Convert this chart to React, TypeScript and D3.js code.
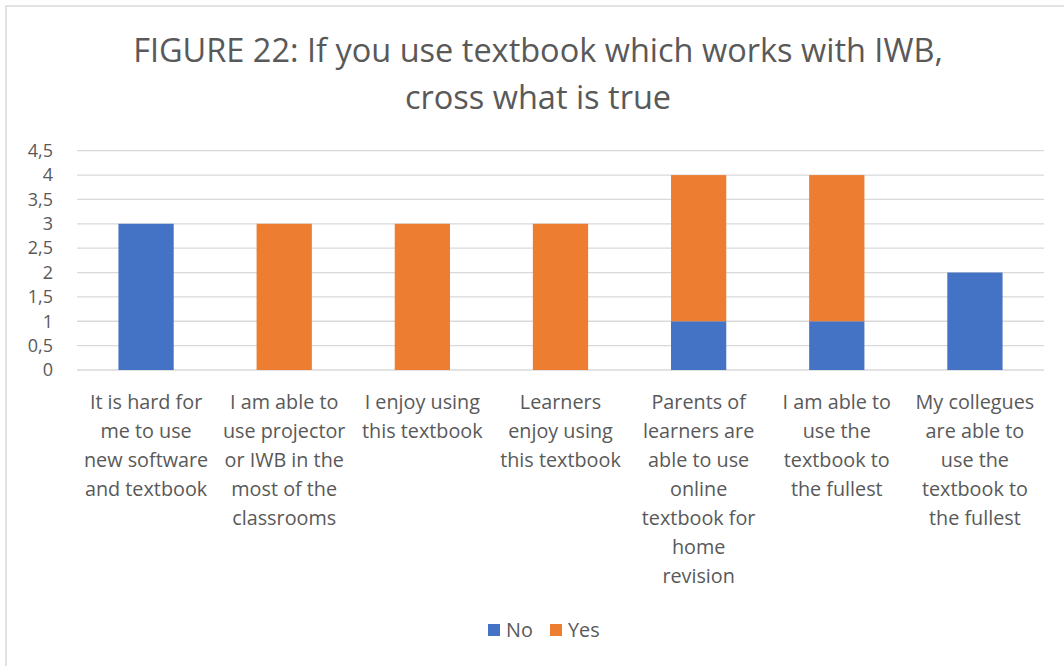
import React from "react";
import * as d3 from "d3";

const categories: string[][] = [
  ["It is hard for", "me to use", "new software", "and textbook"],
  ["I am able to", "use projector", "or IWB in the", "most of the", "classrooms"],
  ["I enjoy using", "this textbook"],
  ["Learners", "enjoy using", "this textbook"],
  ["Parents of", "learners are", "able to use", "online", "textbook for", "home", "revision"],
  ["I am able to", "use the", "textbook to", "the fullest"],
  ["My collegues", "are able to", "use the", "textbook to", "the fullest"],
];
const noValues = [3, 0, 0, 0, 1, 1, 2];
const yesValues = [0, 3, 3, 3, 3, 3, 0];
const yTicks = [0, 0.5, 1, 1.5, 2, 2.5, 3, 3.5, 4, 4.5];
const seriesNames = ["No", "Yes"];
const colors = ["#4472C4", "#ED7D31"];
const titleLines = ["FIGURE 22: If you use textbook which works with IWB,", "cross what is true"];

const W = 1064, H = 666;
const FONT = "'Open Sans', 'Noto Sans', sans-serif";
const TXT = "#595959";

export default function App() {
  const left = 77, right = 1044, top = 150.7, bottom = 370;
  const x = d3.scaleBand<number>().domain(d3.range(categories.length)).range([left, right]).paddingInner(0.6).paddingOuter(0.3);
  const y = d3.scaleLinear().domain([0, 4.5]).range([bottom, top]);
  const rows = categories.map((_, i) => ({ No: noValues[i], Yes: yesValues[i], i }));
  const stack = d3.stack<any>().keys(seriesNames)(rows);
  const fmt = (v: number) => String(v).replace(".", ",");
  const step = (right - left) / categories.length;

  return (
    <svg width={W} height={H} style={{ position: "absolute", left: 0, top: 0, background: "#fff" }}>
      <rect x={6} y={6} width={W + 10} height={H + 10} fill="#fff" stroke="#D9D9D9" strokeWidth={1.5} />
      {titleLines.map((t, k) => (
        <text key={k} x={538} y={62 + k * 47} textAnchor="middle" fontFamily={FONT} fontSize={32.5} fill={TXT}>{t}</text>
      ))}
      {yTicks.map((t) => (
        <g key={t}>
          <line x1={left} x2={right} y1={y(t)} y2={y(t)} stroke="#D9D9D9" strokeWidth={1.3} />
          <text x={53} y={y(t)} dy="0.35em" textAnchor="end" fontFamily={FONT} fontSize={18} fill={TXT}>{fmt(t)}</text>
        </g>
      ))}
      {stack.map((s, si) => (
        <g key={si} fill={colors[si]}>
          {s.map((d, i) => d[1] - d[0] > 0 ? (
            <rect key={i} x={x(i)} width={x.bandwidth()} y={y(d[1])} height={y(d[0]) - y(d[1])} />
          ) : null)}
        </g>
      ))}
      {categories.map((lines, i) => (
        <text key={i} textAnchor="middle" fontFamily={FONT} fontSize={19.8} fill={TXT}>
          {lines.map((l, k) => (
            <tspan key={k} x={left + step * (i + 0.5)} y={409 + k * 29}>{l}</tspan>
          ))}
        </text>
      ))}
      <g fontFamily={FONT} fontSize={19.8} fill={TXT}>
        <rect x={488} y={624} width={12} height={12} fill={colors[0]} />
        <text x={506} y={637}>{seriesNames[0]}</text>
        <rect x={550} y={624} width={12} height={12} fill={colors[1]} />
        <text x={568} y={637}>{seriesNames[1]}</text>
      </g>
    </svg>
  );
}
